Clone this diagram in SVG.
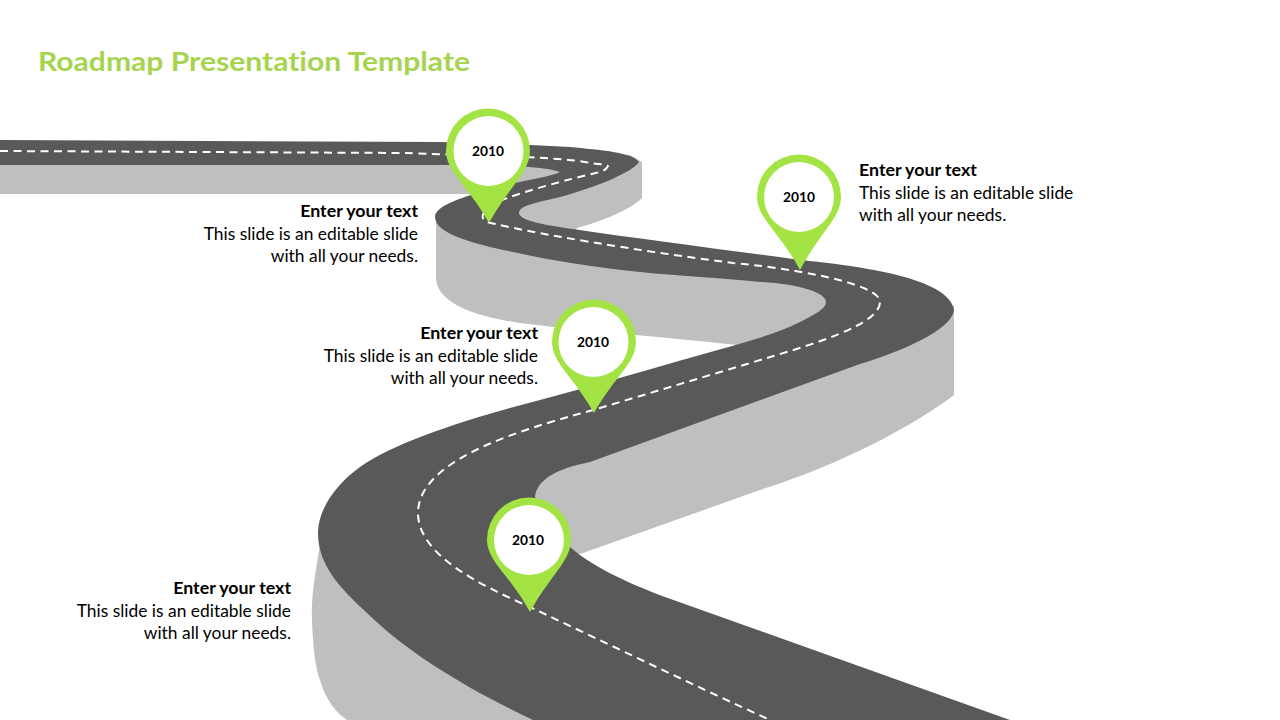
<svg xmlns="http://www.w3.org/2000/svg" width="1280" height="720" viewBox="0 0 1280 720">
<style>
text{font-variant-ligatures:none}
.wall{fill:#bfbfbf}
.road{fill:#595959}
.lane{fill:none;stroke:#fff;stroke-width:2;stroke-dasharray:8 5.5}
.pin{fill:#a3e344}
.hole{fill:#fff}
.yr{font:bold 13.8px Lato,"Liberation Sans",sans-serif;fill:#000;text-anchor:middle}
.h{font:bold 17.8px Lato,"Liberation Sans",sans-serif;fill:#000}
.b{font:17.4px Lato,"Liberation Sans",sans-serif;fill:#000}
.e{text-anchor:end}
</style>
<rect width="1280" height="720" fill="#fff"/>
<text x="38" y="71" font-family="Lato,'Liberation Sans',sans-serif" font-size="27.5" font-weight="bold" fill="#a6d44f" textLength="432" lengthAdjust="spacingAndGlyphs">Roadmap Presentation Template</text>
<g id="road">
<path class="wall" d="M0 160H560V178L480 194H0Z"/>
<path class="wall" d="M630 155L642 162V198C630 210 600 222 577 228L573 235L530 225L515 212L540 190Z"/>
<path class="wall" d="M436 215V278C437 300 465 315 520 323C600 333 680 338 745 346L780 345L840 310L800 270L500 240Z"/>
<path class="wall" d="M954 305V395C915 425 840 465 760 490L583 553L575 555L540 520L530 480L590 440L860 350Z"/>
<path class="wall" d="M320 545C314 580 311 600 312 620C313 650 316 670 320 680C326 700 335 712 347 720H540L400 640Z"/>
<path class="road" d="M0 140L440 142C490 143 533 145 570 147C600 150 632 152 639 162C632 172 600 186 560 197C540 202 519 205 519 213C519 221 550 226 573 229C640 239 720 249 800 260C860 266 950 278 954 310C952 330 900 352 860 364L590 462C560 468 537 478 535 497L570 547C590 565 625 582 665 597L1010 720H533C470 690 410 655 367 613C340 588 318 565 318 533C318 510 335 485 360 467C395 442 470 418 540 400C600 384 650 369 700 355C735 345 775 335 800 322C815 314 826 309 826 302C826 293 800 284 760 282C740 280 720 278 700 277C640 273 580 266 527 255C490 247 435 237 435 217C435 205 465 197 490 189C515 182 550 177 560 172C550 168 520 165 470 165H0Z"/>
<path class="lane" d="M0 151L407 153C450 155 560 156 590 163C600 164 608 165 608 166C606 170 603 171 600 172C570 179 507 195 490 206C482 211 480 220 487 222C530 233 640 251 733 263C780 267 880 282 880 302C880 325 810 345 767 358L600 408C540 425 418 455 418 513C418 555 480 585 530 607C610 645 700 688 770 720"/>
</g>
<g id="pin1"><path class="pin" d="M488 108.500A42 42 0 0 1 530 150.500C530 172 510 185 489 223C468 185 446 172 446 150.500A42 42 0 0 1 488 108.500Z"/><circle class="hole" cx="488.500" cy="151" r="35"/><text class="yr" x="488" y="156">2010</text></g>
<g id="pin2"><path class="pin" d="M799 154.500A42 42 0 0 1 841 196.500C841 218 821 231 800 270C779 231 757 218 757 196.500A42 42 0 0 1 799 154.500Z"/><circle class="hole" cx="799" cy="197" r="35"/><text class="yr" x="799" y="202">2010</text></g>
<g id="pin3"><path class="pin" d="M594 299.500A42 42 0 0 1 636 341.500C636 363 615 376 594 413C573 376 552 363 552 341.500A42 42 0 0 1 594 299.500Z"/><circle class="hole" cx="593.500" cy="342" r="35"/><text class="yr" x="593" y="347">2010</text></g>
<g id="pin4"><path class="pin" d="M529 497.500A42 42 0 0 1 571 539.500C571 561 551 574 530 612C509 574 487 561 487 539.500A42 42 0 0 1 529 497.500Z"/><circle class="hole" cx="529" cy="540" r="35"/><text class="yr" x="528" y="545">2010</text></g>
<g id="label1"><text class="h e" x="418" y="217">Enter your text</text><text class="b e" x="418" y="239.500">This slide is an editable slide</text><text class="b e" x="418" y="261.500">with all your needs.</text></g>
<g id="label2"><text class="h" x="859" y="176">Enter your text</text><text class="b" x="859" y="199">This slide is an editable slide</text><text class="b" x="859" y="220.500">with all your needs.</text></g>
<g id="label3"><text class="h e" x="538" y="339">Enter your text</text><text class="b e" x="538" y="361.500">This slide is an editable slide</text><text class="b e" x="538" y="383.500">with all your needs.</text></g>
<g id="label4"><text class="h e" x="291" y="594">Enter your text</text><text class="b e" x="291" y="617">This slide is an editable slide</text><text class="b e" x="291" y="639">with all your needs.</text></g>
</svg>
